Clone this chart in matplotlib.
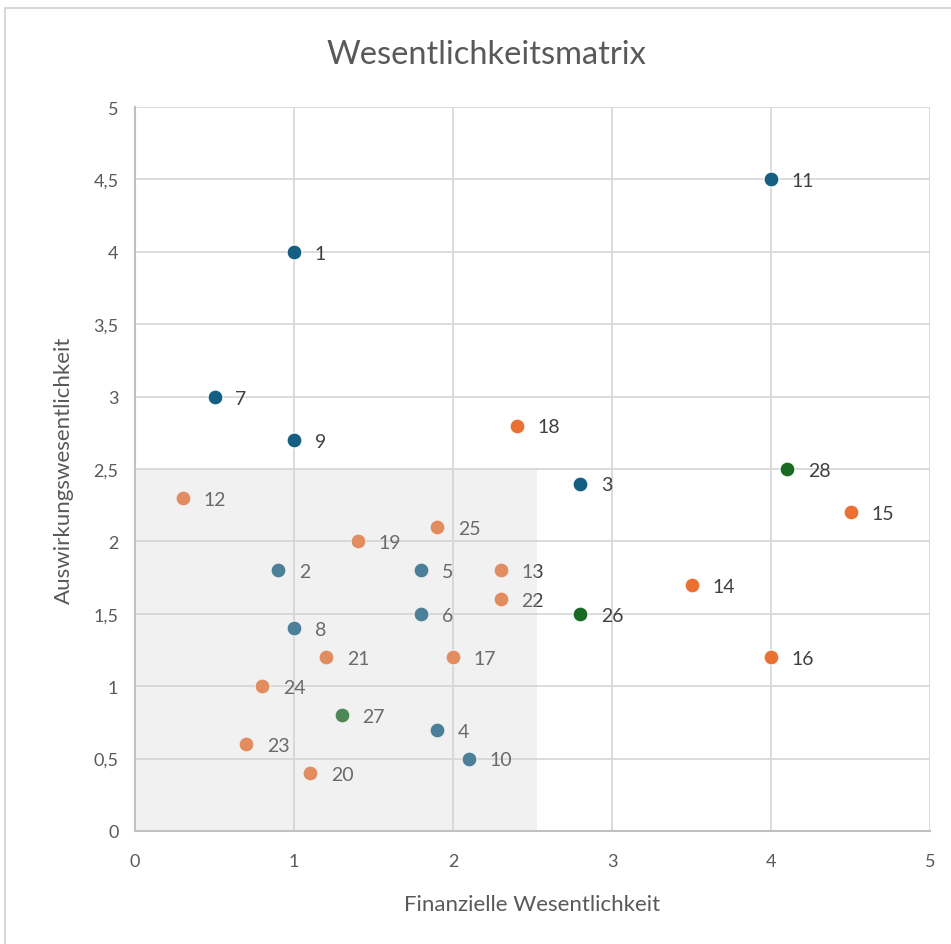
import matplotlib
matplotlib.use("Agg")
import matplotlib.pyplot as plt
from matplotlib.patches import Rectangle
from matplotlib.lines import Line2D
from matplotlib.ticker import FuncFormatter

plt.rcParams['font.family'] = ['Lato', 'DejaVu Sans']

# Topics: id, financial materiality (x), impact materiality (y), group
ids = [1, 2, 3, 4, 5, 6, 7, 8, 9, 10, 11,
       12, 13, 14, 15, 16, 17, 18, 19, 20, 21, 22, 23, 24, 25,
       26, 27, 28]
fin = [1.0, 0.9, 2.8, 1.9, 1.8, 1.8, 0.5, 1.0, 1.0, 2.1, 4.0,
       0.3, 2.3, 3.5, 4.5, 4.0, 2.0, 2.4, 1.4, 1.1, 1.2, 2.3, 0.7, 0.8, 1.9,
       2.8, 1.3, 4.1]
imp = [4.0, 1.8, 2.4, 0.7, 1.8, 1.5, 3.0, 1.4, 2.7, 0.5, 4.5,
       2.3, 1.8, 1.7, 2.2, 1.2, 1.2, 2.8, 2.0, 0.4, 1.2, 1.6, 0.6, 1.0, 2.1,
       1.5, 0.8, 2.5]
group = ['G'] * 11 + ['S'] * 14 + ['E'] * 3

group_colors = {'G': '#156082', 'S': '#E97132', 'E': '#196B24'}

# Threshold area below which topics are considered not material
threshold_x = 2.53
threshold_y = 2.5

ticks = [0, 0.5, 1, 1.5, 2, 2.5, 3, 3.5, 4, 4.5, 5]

fig = plt.figure(figsize=(9.51, 9.45), dpi=100)
ax = fig.add_axes([0.142, 0.1196, 0.836, 0.766])

for i, x, y, g in zip(ids, fin, imp, group):
    ax.scatter(x, y, s=115, color=group_colors[g], edgecolors='white',
               linewidths=0.8, zorder=3)
    ax.annotate(str(i), (x, y), xytext=(15, -1), textcoords='offset points',
                va='center', ha='left', fontsize=14, color='#404040', zorder=4)

# translucent overlay marking the threshold area
ax.add_patch(Rectangle((0, 0), threshold_x, threshold_y,
                       facecolor=(0.82, 0.82, 0.82, 0.29), edgecolor='none',
                       zorder=5))

ax.set_xlim(0, 5)
ax.set_ylim(0, 5)
ax.set_xticks([0, 1, 2, 3, 4, 5])
ax.set_yticks(ticks)
fmt = FuncFormatter(lambda v, p: ('%g' % v).replace('.', ','))
ax.xaxis.set_major_formatter(fmt)
ax.yaxis.set_major_formatter(fmt)
ax.grid(True, color='#d9d9d9', linewidth=1.3, zorder=0)
ax.set_axisbelow(True)
for side in ['top', 'right']:
    ax.spines[side].set_visible(False)
for side in ['left', 'bottom']:
    ax.spines[side].set_color('#bfbfbf')
    ax.spines[side].set_linewidth(1.5)
ax.tick_params(length=0, labelsize=13, labelcolor='#595959', pad=12)
ax.tick_params(axis='x', pad=16)

fig.text(0.512, 0.942, 'Wesentlichkeitsmatrix', fontsize=23.5,
         color='#595959', ha='center', va='center')
ax.set_xlabel('Finanzielle Wesentlichkeit', fontsize=16, color='#595959',
              labelpad=18)
ax.set_ylabel('Auswirkungswesentlichkeit', fontsize=16, color='#595959',
              labelpad=14)

# chart frame
fig.add_artist(Line2D([0.005, 1.0], [0.991, 0.991], color='#d9d9d9', lw=1.5))
fig.add_artist(Line2D([0.005, 0.005], [0.0, 0.991], color='#d9d9d9', lw=1.5))

fig.savefig('out.png', dpi=100)
